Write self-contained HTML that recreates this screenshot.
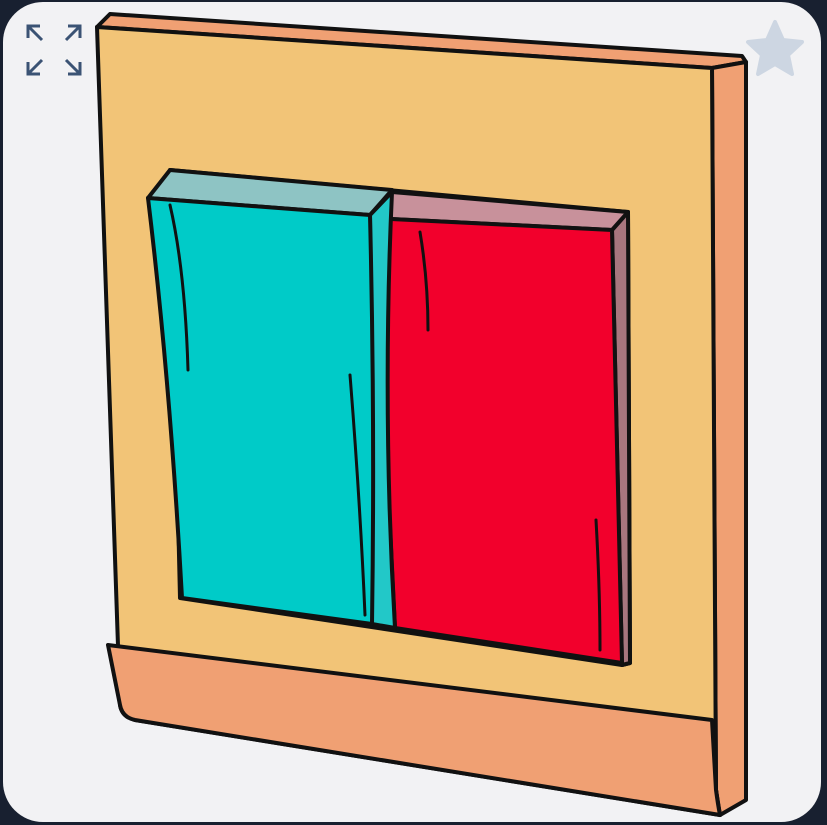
<!DOCTYPE html>
<html><head><meta charset="utf-8"><style>
html,body{margin:0;padding:0;background:#182030;width:827px;height:825px;overflow:hidden}
</style></head><body>
<svg width="827" height="825" viewBox="0 0 827 825">
<rect x="3" y="2" width="818" height="820" rx="40" fill="#f2f2f4"/>
<g stroke="#111" stroke-width="4" stroke-linejoin="round" stroke-linecap="round">
<path d="M97,27 L110,14 L742,56 L746,62 L712,68 Z" fill="#f0a073"/>
<path d="M712,68 L746,62 L746,800 L720,815 L716,790 Z" fill="#f0a073"/>
<path d="M97,27 L712,68 L716,790 Q718,805 720,815 L135,720 Q122,717 120,705 Z" fill="#f2c477"/>
<path d="M108,645 L712,720 L716,790 Q718,805 720,815 L135,720 Q122,717 120,705 Z" fill="#f0a073"/>
</g>
<g stroke="#111" stroke-width="4" stroke-linejoin="round" stroke-linecap="round">
<path d="M170,170 L628,212 L630,663 L622,665 L180,598 Z" fill="#f2c477"/>
<path d="M612,230 L628,212 L630,663 L622,665 Z" fill="#a8767e"/>
<path d="M392,192 L628,212 L612,230 L372,218 Z" fill="#c8919b"/>
<path d="M372,218 L612,230 L622,663 L395,628 Q385,420 372,218 Z" fill="#f2002c"/>
<path d="M170,170 L392,190 L370,215 L148,198 Z" fill="#8ec4c4"/>
<path d="M370,215 L392,192 Q382,410 395,628 L372,624 Z" fill="#22c8c8"/>
<path d="M148,198 L370,215 Q375,420 372,624 L182,598 Q170,380 148,198 Z" fill="#00cbc8"/>
</g>
<g stroke="#111" stroke-width="3" fill="none" stroke-linecap="round">
<path d="M170,205 Q185,270 188,370"/>
<path d="M350,375 Q360,500 365,615"/>
<path d="M420,232 Q428,280 428,330"/>
<path d="M596,520 Q600,590 600,650"/>
</g>
<g stroke="#3b5374" stroke-width="3" fill="none">
<path d="M28,38 V26 H40 M28,26 L42,40"/>
<path d="M80,38 V26 H68 M80,26 L66,40"/>
<path d="M28,62 V74 H40 M28,74 L42,60"/>
<path d="M80,62 V74 H68 M80,74 L66,60"/>
</g>
<path d="M775,22 L783,40 L802,42 L788,55 L792,74 L775,64 L758,74 L762,55 L748,42 L767,40 Z" fill="#cdd6e2" stroke="#cdd6e2" stroke-width="4" stroke-linejoin="round"/>
</svg>
</body></html>
